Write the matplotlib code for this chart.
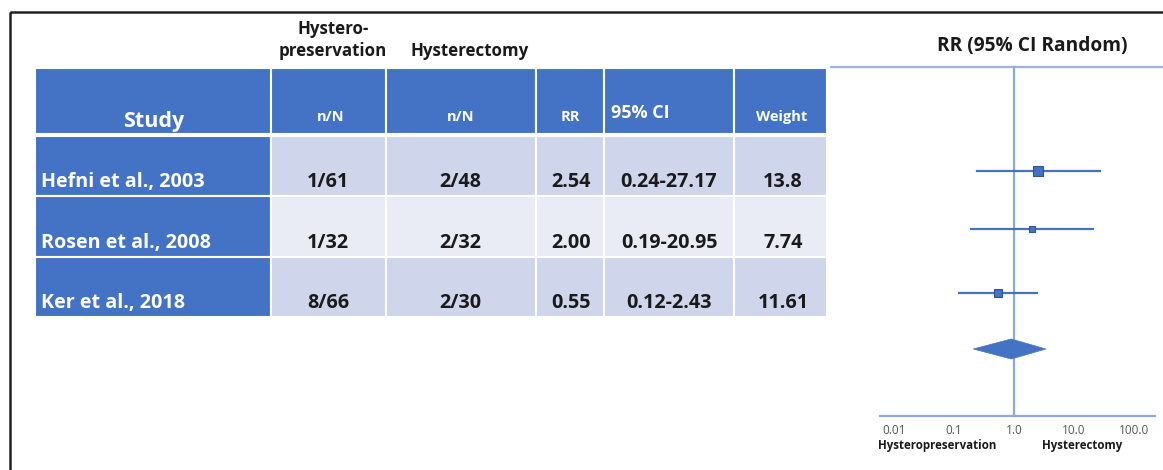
import numpy as np
import matplotlib
matplotlib.use("Agg")
import matplotlib.pyplot as plt
from matplotlib.patches import Rectangle, Polygon

plt.rcParams["font.family"] = ["Open Sans", "DejaVu Sans"]

# ---- data ----
studies = ["Hefni et al., 2003", "Rosen et al., 2008", "Ker et al., 2018"]
preserve_nN = ["1/61", "1/32", "8/66"]
hysterectomy_nN = ["2/48", "2/32", "2/30"]
rr = [2.54, 2.00, 0.55]
ci_low = [0.24, 0.19, 0.12]
ci_high = [27.17, 20.95, 2.43]
weights = [13.8, 7.74, 11.61]
pooled = (0.90, 0.21, 3.40)   # estimate, lower, upper of the summary diamond
xticks = [0.01, 0.1, 1.0, 10.0, 100.0]
xtick_labels = ["0.01", "0.1", "1.0", "10.0", "100.0"]

BLUE = "#4472C4"
LIGHT1 = "#CFD5EA"
LIGHT2 = "#E9EBF5"
AXIS_BLUE = "#8EA9DB"
SQUARE = "#2F5597"
INK = "#1a1a1a"

W, H = 1163, 470
fig = plt.figure(figsize=(W / 100, H / 100), dpi=100)
ax = fig.add_axes([0, 0, 1, 1])
ax.set_xlim(0, W)
ax.set_ylim(H, 0)
ax.axis("off")

# outer frame (runs off the right and bottom edges)
ax.add_patch(Rectangle((10, 12), 1250, 520, fill=False, edgecolor="#222222",
                       linewidth=1.8, zorder=1))

# ---- table ----
col_edges = [35, 271, 386, 536, 604, 734, 827]
header_top, header_bot = 68, 134
row_edges = [136, 196, 257, 317]

for c in range(len(col_edges) - 1):
    ax.add_patch(Rectangle((col_edges[c], header_top), col_edges[c + 1] - col_edges[c],
                           header_bot - header_top, facecolor=BLUE,
                           edgecolor="white", linewidth=1.5, zorder=2))
for r in range(len(studies)):
    y0, y1 = row_edges[r], row_edges[r + 1]
    for c in range(len(col_edges) - 1):
        fc = BLUE if c == 0 else (LIGHT1 if r % 2 == 0 else LIGHT2)
        ax.add_patch(Rectangle((col_edges[c], y0), col_edges[c + 1] - col_edges[c],
                               y1 - y0, facecolor=fc, edgecolor="white",
                               linewidth=1.5, zorder=2))

# column group labels above the header
ax.text(333, 40, "Hystero-\npreservation", ha="center", va="center",
        fontsize=12.2, fontweight="bold", color=INK, linespacing=1.3)
ax.text(470, 51, "Hysterectomy", ha="center", va="center",
        fontsize=12.2, fontweight="bold", color=INK)

# header cells
ax.text(154, 121, "Study", ha="center", va="center", fontsize=15.5,
        fontweight="bold", color="white")
hdr_small = dict(ha="center", va="center", fontsize=10.5, fontweight="bold",
                 color="white")
ax.text(331, 117, "n/N", **hdr_small)
ax.text(461, 117, "n/N", **hdr_small)
ax.text(570, 117, "RR", **hdr_small)
ax.text(782, 117, "Weight", **hdr_small)
ax.text(611, 113, "95% CI", ha="left", va="center", fontsize=13,
        fontweight="bold", color="white")

# body cells
body = dict(va="center", fontsize=14.2, fontweight="bold", zorder=3)
for r in range(len(studies)):
    yt = row_edges[r + 1] - 14
    ax.text(41, yt, studies[r], ha="left", color="white", **body)
    ax.text(328, yt, preserve_nN[r], ha="center", color=INK, **body)
    ax.text(460, yt, hysterectomy_nN[r], ha="center", color=INK, **body)
    ax.text(571, yt, f"{rr[r]:.2f}", ha="center", color=INK, **body)
    ax.text(669, yt, f"{ci_low[r]:.2f}-{ci_high[r]:.2f}", ha="center",
            color=INK, **body)
    ax.text(783, yt, f"{weights[r]:g}", ha="center", color=INK, **body)

# ---- forest plot ----
px_per_dec = 60.0
x_one = 1014
left_px, right_px = 830, W
fa = fig.add_axes([left_px / W, 0, (right_px - left_px) / W, 1])
fa.set_xscale("log")
fa.set_xlim(10 ** ((left_px - x_one) / px_per_dec), 10 ** ((right_px - x_one) / px_per_dec))
fa.set_ylim(H, 0)
fa.axis("off")


def px2val(px):
    return 10 ** ((px - x_one) / px_per_dec)


fa.plot([px2val(left_px), px2val(right_px)], [67, 67], color="#9DB3E0", lw=1.6,
        solid_capstyle="butt")
fa.plot([1, 1], [67, 416], color=AXIS_BLUE, lw=1.6)
fa.plot([px2val(880), px2val(1155)], [416, 416], color=AXIS_BLUE, lw=1.6)

fa.text(px2val(1032), 46, "RR (95% CI Random)", ha="center", va="center",
        fontsize=13.8, fontweight="bold", color=INK)

row_y = [171, 229, 293]
for r in range(len(studies)):
    fa.plot([ci_low[r], ci_high[r]], [row_y[r], row_y[r]], color=BLUE, lw=1.6,
            zorder=3)
    fa.plot([rr[r]], [row_y[r]], marker="s", ms=weights[r] * 0.55, color=BLUE,
            markeredgecolor=SQUARE, markeredgewidth=0.8, zorder=4)

est, lo, hi = pooled
dy = 10
fa.add_patch(Polygon([(lo, 349), (est, 349 - dy), (hi, 349), (est, 349 + dy)],
                     closed=True, facecolor=BLUE, edgecolor=BLUE, lw=0.5, zorder=4))

for v, lab in zip(xticks, xtick_labels):
    fa.text(v, 430, lab, ha="center", va="center", fontsize=8.5, color="#555555")
fa.text(px2val(937), 446, "Hysteropreservation", ha="center", va="center",
        fontsize=8.3, fontweight="bold", color=INK)
fa.text(px2val(1082), 446, "Hysterectomy", ha="center", va="center",
        fontsize=8.3, fontweight="bold", color=INK)

fig.savefig("out.png", dpi=100)
